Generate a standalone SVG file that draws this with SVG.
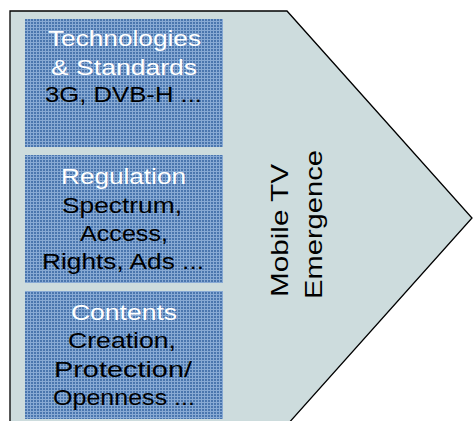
<svg xmlns="http://www.w3.org/2000/svg" width="473" height="421" viewBox="0 0 473 421">
  <defs>
    <!-- fine woven texture used for the three topic boxes -->
    <pattern id="weave" x="0" y="0" width="3" height="3" patternUnits="userSpaceOnUse">
      <rect width="3" height="3" fill="#4a76ae"/>
      <rect x="0" y="0" width="3" height="1" fill="#88aad4"/>
      <rect x="0" y="0" width="1" height="3" fill="#88aad4"/>
    </pattern>
    <style>
      .arrow { fill: #cddcdd; stroke: #000; stroke-width: 1.3; }
      .box { fill: url(#weave); }
      .t { font-family: "Liberation Sans", Arial, sans-serif; font-size: 21.5px; }
      .head { fill: #ffffff; }
      .body { fill: #000000; }
      .vt { font-family: "Liberation Sans", Arial, sans-serif; font-size: 24px; fill: #000; }
    </style>
  </defs>

  <!-- large pentagon arrow -->
  <g id="emergence">
    <polygon class="arrow" points="10,11 287,11 472,218 287,425 10,425"/>
    <text class="vt" transform="translate(288,297) rotate(-90)" textLength="133" lengthAdjust="spacingAndGlyphs">Mobile TV</text>
    <text class="vt" transform="translate(322,299) rotate(-90)" textLength="149" lengthAdjust="spacingAndGlyphs">Emergence</text>
  </g>

  <g id="technologies">
    <rect class="box" x="25" y="19" width="198" height="128"/>
    <text class="t head" x="48" y="46" textLength="153" lengthAdjust="spacingAndGlyphs">Technologies</text>
    <text class="t head" x="51" y="75" textLength="146" lengthAdjust="spacingAndGlyphs">&amp; Standards</text>
    <text class="t body" x="45" y="102" textLength="157" lengthAdjust="spacingAndGlyphs">3G, DVB-H ...</text>
  </g>

  <g id="regulation">
    <rect class="box" x="25" y="155" width="198" height="128"/>
    <text class="t head" x="61" y="184" textLength="125" lengthAdjust="spacingAndGlyphs">Regulation</text>
    <text class="t body" x="62" y="212.5" textLength="120" lengthAdjust="spacingAndGlyphs">Spectrum,</text>
    <text class="t body" x="80" y="241" textLength="88" lengthAdjust="spacingAndGlyphs">Access,</text>
    <text class="t body" x="42" y="269" textLength="162" lengthAdjust="spacingAndGlyphs">Rights, Ads ...</text>
  </g>

  <g id="contents">
    <rect class="box" x="25" y="291" width="198" height="128"/>
    <text class="t head" x="71" y="320" textLength="106" lengthAdjust="spacingAndGlyphs">Contents</text>
    <text class="t body" x="68" y="348" textLength="108" lengthAdjust="spacingAndGlyphs">Creation,</text>
    <text class="t body" x="54" y="376.5" textLength="138" lengthAdjust="spacingAndGlyphs">Protection/</text>
    <text class="t body" x="53" y="405" textLength="142" lengthAdjust="spacingAndGlyphs">Openness ...</text>
  </g>
</svg>
